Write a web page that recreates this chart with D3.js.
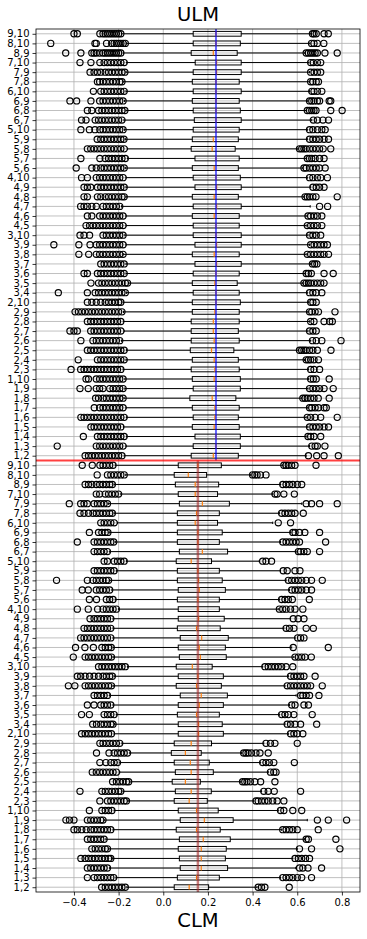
<!DOCTYPE html>
<html>
<head>
<meta charset="utf-8">
<script src="https://cdn.jsdelivr.net/npm/d3@7"></script>
<style>
  body { margin: 0; background: #fff; }
  svg { display: block; font-family: "DejaVu Sans", sans-serif; }
</style>
</head>
<body>
<div class="canvas"></div>
<script>
// category pairs, bottom to top inside each half
const pairs = ['1,2','1,3','1,4','1,5','1,6','1,7','1,8','1,9','1,10',
  '2,3','2,4','2,5','2,6','2,7','2,8','2,9','2,10',
  '3,4','3,5','3,6','3,7','3,8','3,9','3,10',
  '4,5','4,6','4,7','4,8','4,9','4,10',
  '5,6','5,7','5,8','5,9','5,10',
  '6,7','6,8','6,9','6,10',
  '7,8','7,9','7,10',
  '8,9','8,10',
  '9,10'];

const xTicks = [-0.4, -0.2, 0.0, 0.2, 0.4, 0.6, 0.8];

// ULM (upper half)
const ulmQ1 = [.125,.134,.142,.13,.134,.13,.119,.134,.13, .125,.13,.121,.125,.125,.125,.13,.13, .134,.13,.134,.142,.13,.142,.134, .134,.13,.134,.13,.142,.134, .13,.142,.125,.13,.134, .139,.134,.13,.134, .13,.134,.143, .125,.134, .134];
const ulmMed = [.224,.236,.236,.228,.231,.231,.219,.236,.228, .231,.228,.216,.228,.224,.224,.231,.236, .236,.231,.236,.239,.228,.239,.236, .236,.228,.239,.228,.239,.236, .228,.236,.219,.224,.236, .236,.236,.236,.236, .236,.239,.239, .224,.236, .236];
const ulmQ3 = [.336,.345,.345,.34,.336,.34,.325,.345,.345, .34,.336,.316,.34,.336,.34,.34,.345, .34,.331,.34,.349,.34,.349,.349, .34,.34,.349,.336,.349,.345, .336,.34,.322,.336,.34, .349,.345,.34,.349, .34,.349,.349, .331,.345, .349];
const ulmLo = [-.175,-.167,-.165,-.178,-.165,-.167,-.176,-.172,-.172, -.18,-.167,-.165,-.187,-.175,-.179,-.178,-.18, -.165,-.155,-.167,-.167,-.179,-.167,-.172, -.167,-.167,-.187,-.167,-.167,-.167, -.17,-.16,-.16,-.17,-.174, -.176,-.167,-.174,-.167, -.18,-.167,-.164, -.179,-.164, -.187];
const ulmHi = [.64,.655,.64,.648,.64,.648,.62,.648,.65, .65,.633,.605,.66,.648,.655,.648,.65, .645,.625,.635,.66,.64,.655,.648, .64,.64,.658,.63,.66,.645, .625,.64,.6,.645,.645, .665,.64,.645,.655, .655,.655,.652, .634,.657, .664];
const ulmFliers = [
  [-0.35,-0.335,-0.32,-0.305,-0.29,-0.275,-0.26,-0.245,-0.23,-0.215,-0.2,-0.185, 0.65,0.687,0.72,0.784],
  [-0.475,-0.3,-0.285,-0.27,-0.255,-0.24,-0.225,-0.21,-0.195,-0.18, 0.665,0.68,0.69,0.724],
  [-0.358,-0.295,-0.28,-0.265,-0.25,-0.235,-0.22,-0.205,-0.19,-0.175, 0.648,0.66,0.675,0.705],
  [-0.324,-0.31,-0.295,-0.28,-0.265,-0.25,-0.235,-0.22,-0.205,-0.19, 0.655,0.67,0.685,0.7,0.72,0.74],
  [-0.369,-0.355,-0.34,-0.325,-0.31,-0.295,-0.28,-0.265,-0.25,-0.235,-0.22,-0.205,-0.19,-0.175, 0.645,0.66,0.68,0.705,0.779],
  [-0.309,-0.285,-0.27,-0.255,-0.24,-0.225,-0.21,-0.195,-0.18, 0.655,0.665,0.68,0.695,0.72,0.73],
  [-0.303,-0.29,-0.27,-0.255,-0.24,-0.225,-0.21,-0.195,-0.18, 0.625,0.635,0.645,0.66,0.675,0.694,0.743],
  [-0.373,-0.336,-0.3,-0.285,-0.27,-0.24,-0.225,-0.21,-0.195,-0.18, 0.655,0.67,0.685,0.7,0.72,0.761],
  [-0.346,-0.335,-0.3,-0.285,-0.27,-0.255,-0.24,-0.225,-0.21,-0.195,-0.18, 0.66,0.672,0.685,0.743],
  [-0.413,-0.37,-0.355,-0.34,-0.325,-0.31,-0.295,-0.28,-0.265,-0.25,-0.235,-0.22,-0.205,-0.19, 0.66,0.675,0.7],
  [-0.381,-0.295,-0.28,-0.265,-0.25,-0.235,-0.22,-0.205,-0.19,-0.175, 0.64,0.65,0.66,0.675,0.695],
  [-0.34,-0.325,-0.31,-0.295,-0.28,-0.265,-0.25,-0.235,-0.22,-0.205,-0.19,-0.175, 0.61,0.62,0.63,0.64,0.655,0.67,0.69,0.751],
  [-0.369,-0.315,-0.3,-0.285,-0.27,-0.255,-0.24,-0.225,-0.21,-0.195, 0.668,0.685,0.71,0.796],
  [-0.418,-0.4,-0.385,-0.325,-0.31,-0.295,-0.28,-0.265,-0.25,-0.235,-0.22,-0.205,-0.19, 0.655,0.67,0.685],
  [-0.34,-0.325,-0.31,-0.295,-0.28,-0.265,-0.25,-0.235,-0.22,-0.205,-0.19, 0.66,0.675,0.72,0.745,0.757],
  [-0.395,-0.38,-0.365,-0.35,-0.335,-0.32,-0.305,-0.29,-0.275,-0.26,-0.245,-0.23,-0.215,-0.2,-0.185, 0.655,0.665,0.68,0.695,0.769],
  [-0.34,-0.32,-0.3,-0.28,-0.26,-0.245,-0.23,-0.215,-0.2,-0.19, 0.66,0.67,0.685],
  [-0.47,-0.34,-0.305,-0.29,-0.275,-0.26,-0.245,-0.23,-0.215,-0.2,-0.185,-0.17, 0.655,0.67,0.685,0.71],
  [-0.324,-0.29,-0.275,-0.26,-0.245,-0.23,-0.215,-0.2,-0.185,-0.17,-0.16, 0.63,0.64,0.65,0.66,0.675,0.69,0.705,0.72],
  [-0.355,-0.34,-0.295,-0.28,-0.265,-0.25,-0.235,-0.22,-0.205,-0.19,-0.175, 0.64,0.65,0.663,0.72,0.761],
  [-0.28,-0.265,-0.25,-0.235,-0.22,-0.205,-0.19,-0.175, 0.668,0.678,0.688],
  [-0.378,-0.334,-0.3,-0.285,-0.27,-0.255,-0.24,-0.225,-0.21,-0.195,-0.18, 0.645,0.66,0.675,0.69,0.705,0.72,0.74],
  [-0.49,-0.378,-0.328,-0.3,-0.285,-0.27,-0.255,-0.24,-0.225,-0.21,-0.195,-0.18, 0.66,0.675,0.69,0.705,0.72,0.735],
  [-0.373,-0.355,-0.33,-0.27,-0.255,-0.24,-0.225,-0.21,-0.195,-0.18, 0.655,0.67,0.685,0.705],
  [-0.346,-0.33,-0.315,-0.3,-0.285,-0.27,-0.255,-0.24,-0.225,-0.21,-0.195,-0.18, 0.645,0.66,0.675,0.69,0.71],
  [-0.34,-0.32,-0.285,-0.27,-0.255,-0.24,-0.225,-0.21,-0.195,-0.18, 0.648,0.66,0.675,0.69,0.71],
  [-0.37,-0.355,-0.34,-0.32,-0.3,-0.27,-0.255,-0.24,-0.225,-0.21,-0.195, 0.7,0.736],
  [-0.355,-0.34,-0.295,-0.28,-0.26,-0.245,-0.23,-0.215,-0.2,-0.185,-0.175, 0.635,0.645,0.655,0.67,0.684,0.779],
  [-0.355,-0.34,-0.325,-0.295,-0.28,-0.265,-0.25,-0.235,-0.22,-0.205,-0.19,-0.175, 0.67,0.685,0.7,0.72],
  [-0.366,-0.34,-0.3,-0.285,-0.27,-0.255,-0.24,-0.225,-0.21,-0.195,-0.18, 0.655,0.67,0.69,0.705,0.735],
  [-0.39,-0.32,-0.3,-0.28,-0.265,-0.25,-0.235,-0.22,-0.205,-0.19,-0.175, 0.63,0.64,0.655,0.67,0.685,0.7,0.725],
  [-0.369,-0.284,-0.26,-0.245,-0.23,-0.215,-0.2,-0.185,-0.17, 0.645,0.655,0.665,0.68,0.7,0.72],
  [-0.34,-0.325,-0.31,-0.295,-0.28,-0.265,-0.25,-0.235,-0.22,-0.205,-0.19,-0.175, 0.61,0.62,0.63,0.64,0.655,0.67,0.685,0.7,0.716,0.75],
  [-0.296,-0.28,-0.265,-0.25,-0.235,-0.22,-0.205,-0.19,-0.176, 0.655,0.67,0.685,0.7,0.72,0.74],
  [-0.369,-0.331,-0.306,-0.284,-0.27,-0.255,-0.24,-0.225,-0.21,-0.195,-0.18, 0.655,0.67,0.69,0.71,0.725],
  [-0.366,-0.346,-0.305,-0.29,-0.275,-0.26,-0.245,-0.23,-0.215,-0.2,-0.185, 0.672,0.69,0.715,0.74],
  [-0.34,-0.32,-0.29,-0.275,-0.26,-0.245,-0.23,-0.215,-0.2,-0.185,-0.172, 0.645,0.655,0.665,0.675,0.684,0.75,0.801],
  [-0.418,-0.388,-0.324,-0.285,-0.27,-0.255,-0.24,-0.225,-0.21,-0.195,-0.18, 0.655,0.665,0.675,0.69,0.7,0.743,0.75],
  [-0.313,-0.28,-0.265,-0.25,-0.235,-0.22,-0.205,-0.19,-0.175, 0.665,0.675,0.69,0.71],
  [-0.295,-0.285,-0.27,-0.255,-0.24,-0.225,-0.21,-0.195,-0.185, 0.66,0.67,0.685,0.695],
  [-0.328,-0.31,-0.295,-0.28,-0.26,-0.245,-0.23,-0.215,-0.2,-0.185,-0.172, 0.66,0.675,0.69,0.705],
  [-0.373,-0.324,-0.284,-0.265,-0.25,-0.235,-0.22,-0.205,-0.19,-0.175, 0.66,0.672,0.69,0.705],
  [-0.437,-0.369,-0.32,-0.31,-0.3,-0.285,-0.27,-0.26,-0.25,-0.24,-0.23,-0.22,-0.21,-0.2,-0.19, 0.64,0.65,0.66,0.67,0.68,0.69,0.724,0.779],
  [-0.504,-0.306,-0.3,-0.254,-0.231,-0.22,-0.21,-0.2,-0.19,-0.18,-0.17, 0.664,0.675,0.69,0.719],
  [-0.4,-0.385,-0.284,-0.27,-0.26,-0.25,-0.24,-0.23,-0.22,-0.21,-0.2,-0.19, 0.668,0.675,0.685,0.72,0.739]
];

// CLM (lower half)
const clmQ1 = [.049,.063,.076,.072,.067,.072,.058,.076,.067, .049,.054,.04,.054,.049,.036,.049,.067, .067,.063,.067,.076,.058,.067,.058, .072,.067,.076,.063,.067,.067, .063,.067,.063,.063,.058, .072,.063,.063,.063, .063,.072,.067, .054,.049, .067];
const clmMed = [.116,.149,.17,.17,.17,.179,.149,.184,.149, .116,.125,.099,.125,.121,.099,.125,.158, .158,.149,.161,.17,.149,.155,.13, .166,.161,.172,.149,.158,.155, .155,.161,.158,.155,.125, .175,.155,.155,.143, .149,.175,.143, .143,.112, .155];
const clmQ3 = [.203,.251,.288,.278,.282,.3,.255,.313,.246, .197,.215,.166,.224,.206,.17,.216,.269, .264,.251,.269,.287,.26,.269,.219, .282,.278,.291,.255,.273,.251, .251,.278,.264,.251,.216, .288,.251,.264,.243, .251,.296,.243, .248,.194, .26];
const clmLo = [-.163,-.212,-.24,-.227,-.245,-.257,-.225,-.265,-.22, -.158,-.18,-.145,-.195,-.195,-.15,-.185,-.22, -.218,-.21,-.225,-.24,-.225,-.22,-.16, -.225,-.225,-.225,-.225,-.225,-.2, -.215,-.23,-.24,-.21,-.165, -.24,-.215,-.24,-.205, -.22,-.245,-.19, -.22,-.168, -.215];
const clmHi = [.42,.525,.593,.58,.6,.632,.53,.645,.515, .405,.44,.345,.47,.435,.35,.45,.56, .545,.52,.565,.595,.545,.56,.445, .585,.575,.59,.54,.57,.515, .52,.565,.55,.525,.43, .595,.525,.57,.49, .52,.62,.49, .525,.39, .535];
const clmFliers = [
  [-0.276,-0.26,-0.245,-0.23,-0.215,-0.2,-0.185,-0.17, 0.425,0.44,0.455,0.564],
  [-0.34,-0.31,-0.295,-0.28,-0.265,-0.25,-0.235,-0.222, 0.535,0.55,0.565,0.58,0.6,0.62,0.664],
  [-0.34,-0.325,-0.31,-0.295,-0.28,-0.265,-0.25, 0.61,0.625,0.648,0.709],
  [-0.369,-0.35,-0.335,-0.32,-0.305,-0.29,-0.275,-0.26,-0.245,-0.235, 0.59,0.605,0.62,0.637,0.655],
  [-0.32,-0.305,-0.29,-0.275,-0.26,-0.25, 0.61,0.664,0.791],
  [-0.34,-0.325,-0.31,-0.295,-0.28,-0.265, 0.64,0.65,0.773],
  [-0.4,-0.385,-0.365,-0.345,-0.325,-0.31,-0.295,-0.28,-0.265,-0.25,-0.235, 0.535,0.55,0.565,0.58,0.6,0.694],
  [-0.436,-0.42,-0.4,-0.34,-0.325,-0.31,-0.295,-0.28,-0.27, 0.69,0.739,0.821],
  [-0.331,-0.275,-0.26,-0.245,-0.23, 0.525,0.54,0.58,0.62],
  [-0.284,-0.25,-0.235,-0.22,-0.205,-0.19,-0.175,-0.165, 0.415,0.425,0.44,0.455,0.47,0.49,0.51,0.54],
  [-0.373,-0.275,-0.26,-0.245,-0.23,-0.215,-0.2,-0.19, 0.45,0.47,0.497,0.615],
  [-0.227,-0.21,-0.195,-0.18,-0.165,-0.155, 0.355,0.365,0.375,0.39,0.41,0.436,0.5],
  [-0.318,-0.3,-0.285,-0.27,-0.255,-0.24,-0.225,-0.21, 0.48,0.495,0.505],
  [-0.284,-0.257,-0.235,-0.22,-0.205, 0.445,0.46,0.475,0.495,0.587],
  [-0.299,-0.243,-0.22,-0.205,-0.19,-0.175,-0.16, 0.36,0.37,0.38,0.395,0.415,0.433,0.47],
  [-0.284,-0.27,-0.255,-0.24,-0.225,-0.21,-0.195, 0.46,0.48,0.5,0.6],
  [-0.366,-0.35,-0.335,-0.32,-0.305,-0.29,-0.275,-0.26,-0.245,-0.232, 0.57,0.585,0.6,0.625],
  [-0.316,-0.299,-0.28,-0.265,-0.25,-0.235,-0.225, 0.555,0.57,0.59,0.615,0.687],
  [-0.366,-0.331,-0.265,-0.25,-0.235,-0.22, 0.53,0.545,0.56,0.585,0.667],
  [-0.34,-0.31,-0.28,-0.265,-0.25,-0.235, 0.575,0.59,0.63,0.65],
  [-0.31,-0.295,-0.28,-0.265,-0.25, 0.615,0.625,0.64,0.655,0.697],
  [-0.425,-0.396,-0.35,-0.335,-0.32,-0.305,-0.29,-0.275,-0.26,-0.245,-0.232, 0.555,0.57,0.585,0.6,0.615,0.63,0.645,0.66,0.712],
  [-0.385,-0.37,-0.35,-0.33,-0.31,-0.29,-0.27,-0.255,-0.24,-0.228, 0.57,0.585,0.6,0.615,0.63,0.68],
  [-0.29,-0.275,-0.26,-0.245,-0.23,-0.215,-0.2,-0.185,-0.17, 0.455,0.47,0.485,0.5,0.515,0.53,0.55,0.58],
  [-0.403,-0.35,-0.335,-0.32,-0.305,-0.29,-0.275,-0.26,-0.245,-0.232, 0.59,0.605,0.62,0.635,0.663],
  [-0.393,-0.351,-0.313,-0.275,-0.26,-0.245,-0.233, 0.582,0.739],
  [-0.37,-0.355,-0.34,-0.325,-0.31,-0.295,-0.28,-0.265,-0.25,-0.235, 0.602,0.615,0.63],
  [-0.355,-0.34,-0.325,-0.31,-0.295,-0.28,-0.265,-0.25,-0.235, 0.55,0.565,0.585,0.64,0.672],
  [-0.328,-0.31,-0.295,-0.28,-0.265,-0.25,-0.235, 0.582,0.604,0.63],
  [-0.385,-0.336,-0.294,-0.27,-0.255,-0.24,-0.225,-0.21, 0.52,0.535,0.55,0.57,0.59,0.625],
  [-0.331,-0.299,-0.255,-0.24,-0.225, 0.53,0.545,0.56,0.578,0.654],
  [-0.363,-0.336,-0.3,-0.285,-0.27,-0.255,-0.24, 0.575,0.59,0.605,0.62,0.64,0.664],
  [-0.478,-0.34,-0.315,-0.3,-0.285,-0.27,-0.255,-0.245, 0.56,0.575,0.59,0.605,0.62,0.64,0.664,0.712],
  [-0.31,-0.295,-0.28,-0.265,-0.25,-0.235,-0.22, 0.537,0.555,0.59,0.612],
  [-0.265,-0.25,-0.22,-0.205,-0.19,-0.175, 0.445,0.46,0.485],
  [-0.31,-0.295,-0.28,-0.265,-0.25, 0.605,0.615,0.63,0.645,0.7],
  [-0.385,-0.31,-0.295,-0.28,-0.265,-0.25,-0.235,-0.222, 0.535,0.55,0.565,0.58,0.595,0.61,0.727],
  [-0.331,-0.29,-0.275,-0.26,-0.248, 0.58,0.59,0.61,0.634,0.7],
  [-0.28,-0.265,-0.25,-0.235,-0.22, 0.515,0.57],
  [-0.373,-0.355,-0.335,-0.315,-0.3,-0.285,-0.27,-0.255,-0.24,-0.228, 0.53,0.545,0.56,0.575,0.59,0.627],
  [-0.421,-0.37,-0.355,-0.34,-0.31,-0.295,-0.28,-0.265,-0.25, 0.64,0.664,0.7,0.779],
  [-0.3,-0.285,-0.26,-0.245,-0.23,-0.215,-0.2, 0.5,0.51,0.54,0.587],
  [-0.35,-0.335,-0.32,-0.3,-0.285,-0.27,-0.255,-0.24,-0.228, 0.535,0.55,0.565,0.58,0.6,0.62],
  [-0.296,-0.25,-0.235,-0.22,-0.205,-0.19,-0.175, 0.4,0.41,0.42,0.435,0.46],
  [-0.363,-0.318,-0.284,-0.27,-0.255,-0.24,-0.225, 0.54,0.55,0.56,0.575,0.59,0.684]
];

// overall means drawn as vertical lines in each half
const ulmMean = 0.236;
const clmMean = 0.155;

// build one row per box: CLM at positions 1..45, ULM at 46..90
const rows = [];
pairs.forEach((p, i) => rows.push({pos: i + 1, q1: clmQ1[i], med: clmMed[i], q3: clmQ3[i], lo: clmLo[i], hi: clmHi[i], fl: clmFliers[i]}));
pairs.forEach((p, i) => rows.push({pos: i + 46, q1: ulmQ1[i], med: ulmMed[i], q3: ulmQ3[i], lo: ulmLo[i], hi: ulmHi[i], fl: ulmFliers[i]}));

const width = 367, height = 939;
const margin = {top: 29, right: 7, bottom: 47, left: 36};
const graphWidth = width - margin.left - margin.right;
const graphHeight = height - margin.top - margin.bottom;

const svg = d3.select('.canvas')
  .append('svg')
  .attr('width', width)
  .attr('height', height);

const graph = svg.append('g')
  .attr('transform', `translate(${margin.left},${margin.top})`);

const x = d3.scaleLinear().domain([-0.57, 0.881]).range([0, graphWidth]);
const y = d3.scaleLinear().domain([0.5, 90.5]).range([graphHeight, 0]);
const half = 0.25; // box half-height in row units

// grid
graph.append('g').selectAll('line.vg')
  .data(xTicks).enter().append('line')
  .attr('x1', d => x(d)).attr('x2', d => x(d))
  .attr('y1', 0).attr('y2', graphHeight)
  .attr('stroke', '#b0b0b0').attr('stroke-width', 0.8);
graph.append('g').selectAll('line.hg')
  .data(d3.range(1, 91)).enter().append('line')
  .attr('x1', 0).attr('x2', graphWidth)
  .attr('y1', d => y(d)).attr('y2', d => y(d))
  .attr('stroke', '#b0b0b0').attr('stroke-width', 0.8);

graph.append('clipPath').attr('id', 'clip')
  .append('rect').attr('width', graphWidth).attr('height', graphHeight);
const plot = graph.append('g').attr('clip-path', 'url(#clip)');

const box = plot.selectAll('g.box').data(rows).enter().append('g');

// whiskers
box.append('line')
  .attr('x1', d => x(d.lo)).attr('x2', d => x(d.q1))
  .attr('y1', d => y(d.pos)).attr('y2', d => y(d.pos))
  .attr('stroke', '#000').attr('stroke-width', 1);
box.append('line')
  .attr('x1', d => x(d.q3)).attr('x2', d => x(d.hi))
  .attr('y1', d => y(d.pos)).attr('y2', d => y(d.pos))
  .attr('stroke', '#000').attr('stroke-width', 1);
// caps
box.selectAll('line.cap').data(d => [d.lo, d.hi].map(v => ({v, pos: d.pos})))
  .enter().append('line')
  .attr('x1', d => x(d.v)).attr('x2', d => x(d.v))
  .attr('y1', d => y(d.pos - half / 2)).attr('y2', d => y(d.pos + half / 2))
  .attr('stroke', '#000').attr('stroke-width', 1);
// boxes
box.append('rect')
  .attr('x', d => x(d.q1)).attr('width', d => x(d.q3) - x(d.q1))
  .attr('y', d => y(d.pos + half)).attr('height', d => y(d.pos - half) - y(d.pos + half))
  .attr('fill', 'none').attr('stroke', '#000').attr('stroke-width', 1);
// fliers
box.selectAll('circle').data(d => d.fl.map(v => ({v, pos: d.pos})))
  .enter().append('circle')
  .attr('cx', d => x(d.v)).attr('cy', d => y(d.pos)).attr('r', 3.1)
  .attr('fill', 'none').attr('stroke', '#000').attr('stroke-width', 1.15);

// mean lines
plot.append('line')
  .attr('x1', x(ulmMean)).attr('x2', x(ulmMean))
  .attr('y1', y(45.5)).attr('y2', y(90.5))
  .attr('stroke', 'blue').attr('stroke-opacity', 0.6).attr('stroke-width', 2);
plot.append('line')
  .attr('x1', x(clmMean)).attr('x2', x(clmMean))
  .attr('y1', y(0.5)).attr('y2', y(45.5))
  .attr('stroke', 'brown').attr('stroke-opacity', 0.6).attr('stroke-width', 2.5);

// medians
box.append('line')
  .attr('x1', d => x(d.med)).attr('x2', d => x(d.med))
  .attr('y1', d => y(d.pos - half)).attr('y2', d => y(d.pos + half))
  .attr('stroke', '#ff7f0e').attr('stroke-width', 1.2);

// separator between the halves
plot.append('line')
  .attr('x1', 0).attr('x2', graphWidth)
  .attr('y1', y(45.5)).attr('y2', y(45.5))
  .attr('stroke', 'red').attr('stroke-opacity', 0.75).attr('stroke-width', 2);

// frame
graph.append('rect')
  .attr('width', graphWidth).attr('height', graphHeight)
  .attr('fill', 'none').attr('stroke', '#000').attr('stroke-width', 0.8);

// axes
const xAxis = d3.axisBottom(x).tickValues(xTicks).tickFormat(d3.format('.1f')).tickSize(3.5).tickPadding(3);
const yAxis = d3.axisLeft(y).tickValues(d3.range(1, 91)).tickFormat(d => pairs[(d - 1) % 45]).tickSize(3.5).tickPadding(3);

const xAxisGroup = graph.append('g').attr('transform', `translate(0,${graphHeight})`).call(xAxis);
const yAxisGroup = graph.append('g').call(yAxis);
[xAxisGroup, yAxisGroup].forEach(g => {
  g.select('.domain').remove();
  g.selectAll('.tick line').attr('stroke', '#000').attr('stroke-width', 0.8);
  g.selectAll('.tick text').attr('fill', '#000').attr('font-family', 'DejaVu Sans').attr('font-size', 10);
});

// titles
svg.append('text')
  .attr('x', margin.left + graphWidth / 2).attr('y', 21)
  .attr('text-anchor', 'middle').attr('font-size', 19.5).text('ULM');
svg.append('text')
  .attr('x', margin.left + graphWidth / 2).attr('y', 927)
  .attr('text-anchor', 'middle').attr('font-size', 19.5).text('CLM');
</script>
</body>
</html>
